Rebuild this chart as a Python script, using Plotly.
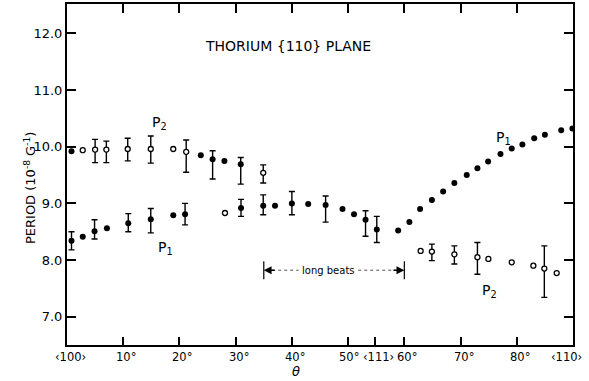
import plotly.graph_objects as go

# ---- data (theta in degrees, period in 1e-8 G^-1) ----
# solid dots with error bars
solid_err_theta = [0.8, 4.9, 10.9, 14.9, 21.0, 30.95, 34.9, 40.0, 46.0, 53.1, 55.1, 25.9, 30.9]
solid_err_val   = [8.34, 8.51, 8.65, 8.72, 8.81, 8.92, 8.96, 9.00, 8.97, 8.71, 8.54, 9.78, 9.69]
solid_err_hi    = [8.50, 8.71, 8.82, 8.91, 9.00, 9.07, 9.15, 9.21, 9.13, 8.87, 8.77, 9.93, 9.81]
solid_err_lo    = [8.18, 8.37, 8.50, 8.48, 8.62, 8.77, 8.80, 8.80, 8.67, 8.42, 8.31, 9.43, 9.34]

# solid dots without error bars
solid_theta = [0.8, 2.8, 7.1, 18.9, 23.8, 28.0, 37.0, 42.9, 49.0, 51.05, 58.9, 60.9, 62.8,
               64.9, 66.9, 68.9, 71.1, 73.0, 74.9, 77.1, 79.1, 81.0, 83.1, 85.0, 87.9, 89.9]
solid_val   = [9.92, 8.41, 8.56, 8.79, 9.85, 9.75, 8.96, 8.99, 8.90, 8.81, 8.52, 8.67, 8.90,
               9.06, 9.21, 9.36, 9.50, 9.62, 9.74, 9.87, 9.97, 10.04, 10.15, 10.21, 10.29, 10.32]

# open circles with error bars
open_err_theta = [5.0, 7.0, 10.8, 14.9, 21.2, 34.9, 64.9, 68.9, 73.0, 84.9]
open_err_val   = [9.95, 9.95, 9.96, 9.96, 9.91, 9.54, 8.15, 8.10, 8.05, 7.85]
open_err_hi    = [10.13, 10.10, 10.15, 10.19, 10.12, 9.68, 8.28, 8.25, 8.31, 8.25]
open_err_lo    = [9.72, 9.72, 9.75, 9.71, 9.55, 9.36, 7.99, 7.93, 7.75, 7.34]

# open circles without error bars
open_theta = [2.8, 18.9, 28.1, 62.9, 74.95, 79.1, 82.95, 87.1]
open_val   = [9.94, 9.96, 8.83, 8.16, 8.02, 7.96, 7.90, 7.77]

# axis ticks
x_tickvals = [0, 10, 20, 30, 40, 50, 54.7, 60, 70, 80, 90]
x_ticktext = ["‹100›", "10°", "20°", "30°", "40°", "50°", "‹111›", "60°", "70°", "80°", "‹110›"]
y_tickvals = [7, 8, 9, 10, 11, 12]
y_ticktext = ["7.0", "8.0", "9.0", "10.0", "11.0", "12.0"]
top_tickvals = [10, 20, 30, 40, 50, 60, 70, 80]

long_beats_range = [35, 60]
long_beats_level = 7.82

FONT = "DejaVu Sans"

def plus(v, h):
    return [a - b for a, b in zip(h, v)]

def minus(v, l):
    return [a - b for a, b in zip(v, l)]

fig = go.Figure()

err_style = dict(type="data", symmetric=False, color="black", thickness=1.4, width=3)

fig.add_trace(go.Scatter(
    x=solid_err_theta, y=solid_err_val, mode="markers",
    marker=dict(size=6, color="black"),
    error_y=dict(array=plus(solid_err_val, solid_err_hi),
                 arrayminus=minus(solid_err_val, solid_err_lo), **err_style),
    showlegend=False, hoverinfo="skip"))
fig.add_trace(go.Scatter(
    x=solid_theta, y=solid_val, mode="markers",
    marker=dict(size=6, color="black"),
    showlegend=False, hoverinfo="skip"))
fig.add_trace(go.Scatter(
    x=open_err_theta, y=open_err_val, mode="markers",
    marker=dict(size=5, color="white", line=dict(color="black", width=1.3)),
    error_y=dict(array=plus(open_err_val, open_err_hi),
                 arrayminus=minus(open_err_val, open_err_lo), **err_style),
    showlegend=False, hoverinfo="skip"))
fig.add_trace(go.Scatter(
    x=open_theta, y=open_val, mode="markers",
    marker=dict(size=5, color="white", line=dict(color="black", width=1.3)),
    showlegend=False, hoverinfo="skip"))

# invisible trace to carry the top axis ticks
fig.add_trace(go.Scatter(x=[], y=[], xaxis="x2", yaxis="y", showlegend=False))

# x tick labels placed as annotations under the axis
for v, t in zip(x_tickvals, x_ticktext):
    if v == x_tickvals[-1]:
        kw = dict(xanchor="right", xshift=11)
    elif t == "50°":
        kw = dict(xanchor="center", xshift=1)
    elif t.endswith("°"):
        kw = dict(xanchor="center", xshift=3)
    elif v == x_tickvals[0]:
        kw = dict(xanchor="center", xshift=3)
    else:
        kw = dict(xanchor="center", xshift=4)
    fig.add_annotation(x=v, y=-0.035, xref="x", yref="paper", yanchor="middle", text=t,
                       showarrow=False, font=dict(family=FONT, size=11.5, color="black"), **kw)

# long beats marker
x0, x1 = long_beats_range
for xe in (x0, x1):
    fig.add_shape(type="line", x0=xe, x1=xe, y0=long_beats_level - 0.16, y1=long_beats_level + 0.16,
                  xref="x", yref="y", line=dict(color="black", width=1.2))
fig.add_shape(type="line", x0=x0 + 1.5, x1=41.2, y0=long_beats_level, y1=long_beats_level,
              xref="x", yref="y", line=dict(color="#555", width=1, dash="dot"))
fig.add_shape(type="line", x0=51.8, x1=x1 - 1.5, y0=long_beats_level, y1=long_beats_level,
              xref="x", yref="y", line=dict(color="#555", width=1, dash="dot"))
fig.add_annotation(x=x0, y=long_beats_level, ax=x0 + 2.2, ay=long_beats_level, axref="x", ayref="y",
                   xref="x", yref="y", text="", showarrow=True, arrowhead=2, arrowsize=1.2,
                   arrowwidth=1.3, arrowcolor="black")
fig.add_annotation(x=x1, y=long_beats_level, ax=x1 - 2.2, ay=long_beats_level, axref="x", ayref="y",
                   xref="x", yref="y", text="", showarrow=True, arrowhead=2, arrowsize=1.2,
                   arrowwidth=1.3, arrowcolor="black")
fig.add_annotation(x=46.5, y=long_beats_level, text="long beats", showarrow=False,
                   font=dict(family=FONT, size=10, color="black"))

# text labels
fig.add_annotation(x=39.3, y=11.77, text="THORIUM {110} PLANE", showarrow=False,
                   font=dict(family=FONT, size=14, color="black"))
for (tx, ty, s) in [(16.4, 10.42, "P<sub>2</sub>"), (17.6, 8.22, "P<sub>1</sub>"),
                    (77.6, 10.16, "P<sub>1</sub>"), (75.2, 7.45, "P<sub>2</sub>")]:
    fig.add_annotation(x=tx, y=ty, text=s, showarrow=False,
                       font=dict(family=FONT, size=14, color="black"))

fig.add_annotation(xref="paper", yref="y", x=-0.093, y=9.27, textangle=-90,
                   text="PERIOD (10<sup>-8</sup> G<sup>-1</sup>)", showarrow=False,
                   font=dict(family=FONT, size=13, color="black"))
fig.add_annotation(xref="x", yref="paper", x=40.7, y=-0.078, yanchor="middle", text="<i>θ</i>",
                   showarrow=False, font=dict(family=FONT, size=13, color="black"))

fig.update_layout(
    width=589, height=381,
    margin=dict(l=67, r=16, t=4, b=36),
    paper_bgcolor="white", plot_bgcolor="white",
    font=dict(family=FONT, size=13, color="black"),
    xaxis=dict(range=[0, 90], tickvals=x_tickvals, showticklabels=False,
               ticks="inside", ticklen=8, tickwidth=1.5, tickcolor="black",
               showline=True, linewidth=2, linecolor="black", mirror=True,
               showgrid=False, zeroline=False, automargin=False),
    xaxis2=dict(range=[0, 90], overlaying="x", side="top", anchor="y",
                tickvals=top_tickvals,
                ticks="inside", ticklen=9, tickwidth=1.5, tickcolor="black",
                showticklabels=False, showline=False, showgrid=False, zeroline=False),
    yaxis=dict(range=[6.5, 12.52], tickvals=y_tickvals, ticktext=y_ticktext,
               ticks="inside", ticklen=9, tickwidth=1.5, tickcolor="black",
               showline=True, linewidth=2, linecolor="black", mirror="ticks",
               showgrid=False, zeroline=False, tickfont=dict(size=13)),
)

fig.write_html("out.html", config={"displayModeBar": False},
               post_script="document.body.style.margin='0';document.body.style.overflow='hidden';")
